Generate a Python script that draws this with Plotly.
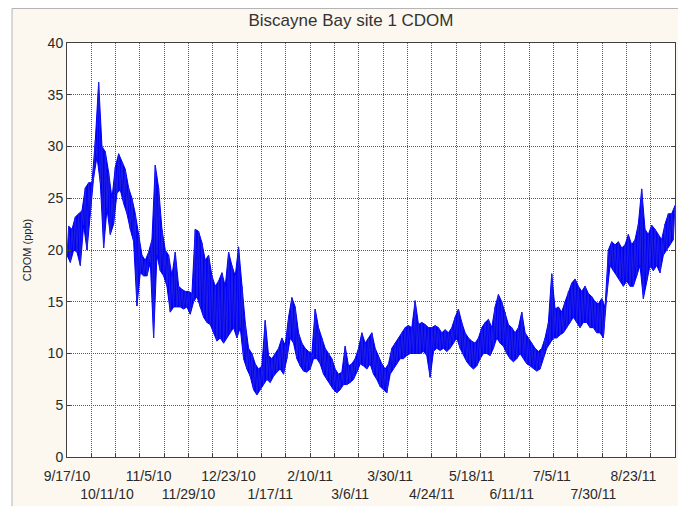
import pandas as pd
import plotly.graph_objects as go

# ---- data: CDOM envelope, one low/high pair every 2 days from 9/17/10
start = pd.Timestamp("2010-09-17")
step_days = 2

cdom_low = [
    19.5, 18.8, 20.0, 19.8, 18.5, 22.4, 20.0, 23.5, 27.0, 29.0,
    26.5, 20.2, 24.0, 21.5, 22.5, 25.5, 25.8, 24.5, 23.5, 22.0,
    20.8, 14.6, 17.8, 17.5, 17.5, 18.8, 11.5, 19.5, 18.0, 17.5,
    16.5, 14.0, 14.5, 14.5, 14.5, 14.3, 14.5, 13.8, 15.0, 15.5,
    14.5, 13.5, 13.0, 12.8, 12.0, 11.2, 11.5, 11.0, 11.5, 12.0,
    12.5, 11.5, 12.5, 9.5, 8.5, 7.8, 6.5, 6.0, 6.5, 7.0,
    7.5, 7.2, 7.8, 8.2, 8.5, 8.0, 9.5, 11.5, 11.0, 9.5,
    8.8, 8.3, 8.2, 8.5, 9.5, 9.5, 9.0, 8.0, 7.5, 7.0,
    6.5, 6.2, 6.5, 7.0, 7.0, 7.2, 7.5, 8.2, 9.0, 8.8,
    8.5, 9.0, 8.0, 7.5, 6.8, 6.5, 6.2, 8.0, 8.5, 9.0,
    9.5, 9.5, 9.8, 10.0, 10.0, 10.0, 10.0, 10.2, 9.8, 7.7,
    10.2, 10.5, 10.3, 10.5, 10.2, 10.5, 11.0, 11.5, 10.5, 9.8,
    9.2, 8.8, 8.5, 8.8, 9.5, 10.0, 10.0, 9.8, 10.5, 11.5,
    11.0, 10.7, 10.0, 9.5, 9.2, 9.5, 10.0, 9.5, 9.0, 8.8,
    8.5, 8.3, 8.5, 9.5, 10.5, 11.0, 11.5, 11.5, 11.8, 12.0,
    12.5, 13.0, 13.5, 13.0, 12.5, 13.0, 13.0, 12.5, 12.5, 12.0,
    12.0, 11.5, 15.5, 18.5, 18.0, 17.5, 17.0, 16.5, 17.0, 16.5,
    16.5, 17.5, 18.5, 15.3, 17.0, 18.5, 18.0, 18.5, 17.8, 19.5,
    20.0, 20.5, 21.0,
]
cdom_high = [
    22.3, 22.0, 23.2, 23.5, 23.8, 26.0, 26.5, 26.5, 30.6, 36.2,
    30.0, 29.5, 27.5, 25.0, 28.0, 29.3, 28.5, 27.8, 26.0, 25.0,
    23.5, 21.5, 19.5, 19.0, 19.8, 21.0, 28.2, 26.0, 22.0, 20.0,
    19.5, 17.5, 19.8, 16.5, 16.2, 16.0, 16.0, 15.8, 22.0, 21.8,
    20.7, 19.0, 19.5, 17.5, 16.5, 17.0, 17.8, 16.5, 19.8, 18.5,
    17.5, 20.3, 16.5, 13.0, 10.5, 10.0, 9.0, 8.5, 8.8, 13.2,
    9.8, 9.5, 10.0, 10.5, 11.5, 10.8, 13.5, 15.4, 14.5, 12.0,
    11.0, 10.5, 10.2, 10.0, 14.3, 12.5, 11.5, 10.5, 10.0, 9.5,
    8.5, 8.0, 8.2, 10.7, 8.8, 9.0, 9.5, 10.5, 12.0, 11.0,
    11.5, 12.0, 10.5, 9.8, 9.0, 8.5, 9.0, 10.5, 11.0, 11.5,
    12.0, 12.5, 12.7, 12.5, 15.1, 12.8, 13.0, 12.8, 12.5, 12.5,
    12.7, 12.5, 12.0, 12.3, 12.0, 12.5, 13.5, 14.3, 13.0, 12.0,
    11.5, 11.2, 11.0, 11.5, 12.5, 13.0, 13.3, 12.5, 14.5, 15.7,
    15.0, 14.0, 12.8, 12.5, 12.0, 12.5, 14.0, 12.0, 11.5, 11.0,
    10.5, 10.2, 10.5, 11.5, 13.0, 17.7, 14.3, 14.5, 14.0, 15.0,
    16.0, 16.8, 17.2, 16.5, 16.0, 16.5, 15.8, 15.5, 15.0, 14.8,
    15.3, 14.5, 20.0, 20.8, 20.5, 20.8, 20.2, 20.5, 21.5, 20.5,
    21.0, 22.5, 25.9, 22.0, 21.5, 22.4, 22.0, 21.5, 21.0, 22.5,
    23.5, 23.5, 24.3,
]

tick_labels = ["9/17/10", "10/11/10", "11/5/10", "11/29/10", "12/23/10",
               "1/17/11", "2/10/11", "3/6/11", "3/30/11", "4/24/11",
               "5/18/11", "6/11/11", "7/5/11", "7/30/11", "8/23/11"]

# low at day d, high at day d+1 -> zigzag like the dense logger record
x_low = [start + pd.Timedelta(days=i * step_days) for i in range(len(cdom_low))]
x_high = [d + pd.Timedelta(days=1) for d in x_low]
xs, ys = [], []
for xl, xh, lo, hi in zip(x_low, x_high, cdom_low, cdom_high):
    xs += [xl, xh]
    ys += [lo, hi]

tick_vals = pd.to_datetime(tick_labels, format="%m/%d/%y")
tick_text = [t if k % 2 == 0 else "<br>" + t for k, t in enumerate(tick_labels)]

end = start + pd.Timedelta(days=365)
grid_vals = [start + pd.Timedelta(days=365 * k / 25) for k in range(1, 25)]

blue = "#0000ff"
fig = go.Figure()
# solid band between the envelopes
fig.add_trace(go.Scatter(x=x_high, y=cdom_high, mode="lines",
                         line=dict(color=blue, width=1), showlegend=False))
fig.add_trace(go.Scatter(x=x_low, y=cdom_low, mode="lines", fill="tonexty",
                         fillcolor=blue, line=dict(color=blue, width=1),
                         showlegend=False))
fig.add_trace(go.Scatter(x=xs, y=ys, mode="lines",
                         line=dict(color="#2020e0", width=1),
                         showlegend=False))

font = "Liberation Sans, Arial, sans-serif"
grid_col = "#5a5a5a"
axis_col = "#404040"

fig.update_xaxes(
    type="date", range=[start, end], automargin=False,
    tickvals=tick_vals, ticktext=tick_text, ticks="", tickangle=0,
    ticklabelstandoff=6,
    tickfont=dict(family=font, size=14, color="#2a2a2a"),
    showgrid=False, zeroline=False,
    showline=True, linecolor=axis_col, linewidth=1, mirror=True,
    minor=dict(tickvals=grid_vals, showgrid=True, gridcolor=grid_col,
               griddash="1px,1px", gridwidth=1, ticks="inside", ticklen=4,
               tickcolor=axis_col),
)
fig.update_yaxes(
    range=[0, 40], tick0=0, dtick=5, automargin=False,
    ticks="inside", ticklen=4, tickcolor=axis_col,
    tickfont=dict(family=font, size=14, color="#2a2a2a"),
    showgrid=True, gridcolor=grid_col, griddash="1px,1px", gridwidth=1,
    zeroline=False, showline=True, linecolor=axis_col, linewidth=1,
    mirror="ticks",
    title=dict(text="CDOM (ppb)", font=dict(family=font, size=11, color="#222"),
               standoff=13),
)

# page body has an 8px margin, so the figure itself starts at (8, 8)
FW, FH = 678, 498
L, T, W, H = 59, 35, 608, 414
px = lambda x: (x - L) / W
py = lambda y: (T + H - y) / H
frame = "#b4b4b4"
fig.update_layout(shapes=[
    dict(type="rect", xref="paper", yref="paper", x0=px(-2), x1=px(4),
         y0=py(510), y1=py(-2), fillcolor="white", line=dict(width=0)),
    dict(type="line", xref="paper", yref="paper", x0=px(4), x1=px(4),
         y0=py(510), y1=py(0.5), line=dict(color=frame, width=1)),
    dict(type="line", xref="paper", yref="paper", x0=px(4), x1=px(690),
         y0=py(0.5), y1=py(0.5), line=dict(color=frame, width=1)),
])

fig.update_layout(
    width=FW, height=FH,
    margin=dict(l=L, r=FW - L - W, t=T, b=FH - T - H),
    paper_bgcolor="#fcf8f0", plot_bgcolor="white",
    title=dict(text="Biscayne Bay site 1 CDOM", x=343 / FW, xref="container",
               xanchor="center", y=1 - 12 / FH, yanchor="middle",
               font=dict(family=font, size=17, color="#333")),
)

fig.write_html("out.html")
